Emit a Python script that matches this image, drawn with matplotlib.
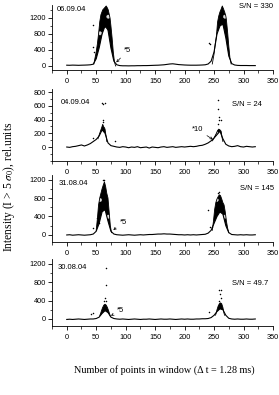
import numpy as np
import matplotlib
matplotlib.use("Agg")
import matplotlib.pyplot as plt
from matplotlib.ticker import MultipleLocator

plt.rcParams['font.family'] = ['Liberation Sans', 'DejaVu Sans']
plt.rcParams['mathtext.fontset'] = 'stix'
plt.rcParams['hatch.linewidth'] = 0.3

dates = ["06.09.04", "04.09.04", "31.08.04", "30.08.04"]
snr_labels = ["S/N = 330", "S/N = 24", "S/N = 145", "S/N = 49.7"]
scale_labels = ["*5", "*10", "*5", "*5"]

curve_x = list(range(0, 325, 5))
curve_06 = [20, 18, 22, 20, 17, 20, 22, 25, 30, 45, 180, 450, 800, 1000, 900, 450, 120, 30, 10, 5,
            5, 3, 5, 5, 8, 8, 10, 10, 12, 15, 18, 20, 25, 30, 40, 50, 55, 45, 35, 30,
            25, 22, 20, 20, 20, 22, 25, 30, 50, 120, 350, 800, 1000, 1050, 700, 250, 60, 25, 15, 12,
            12, 12, 10, 10, 10]
curve_04 = [0, -5, 5, 10, 20, 30, 15, 30, 50, 80, 110, 160, 250, 200, 60, 20, 10, 0, -5, 5,
            0, -10, 0, -5, 5, -10, -5, 0, -15, 0, -5, -10, 0, 5, -5, 0, 5, -5, 0, 5,
            0, 5, 10, 5, 10, 20, 25, 40, 60, 90, 130, 180, 230, 120, 40, 15, 5, 10, 20, 5,
            0, 10, 5, 0, 5]
curve_31 = [0, 5, -5, 0, 5, 0, -5, 0, 5, 20, 80, 250, 500, 550, 300, 80, 20, 5, 0, -5,
            0, 5, 0, -5, 0, 5, 0, 5, 10, 10, 15, 20, 20, 25, 20, 20, 15, 10, 5, 5,
            0, 5, 0, 5, 0, 5, 10, 15, 40, 100, 250, 400, 500, 450, 200, 50, 10, 5, 0, 5,
            0, 5, 0, 0, 5]
curve_30 = [-10, -5, -10, -5, 0, -5, -10, -5, 0, 0, 10, 40, 120, 180, 140, 40, 10, 0, -5, 0,
            -5, -10, -5, 0, -5, -10, -5, -5, 0, -5, -10, -5, 0, -5, -5, 0, -5, -10, -5, 0,
            -5, 0, -5, -5, 0, 0, 5, 5, 10, 30, 80, 160, 220, 200, 80, 15, 0, -5, 0, -5,
            -5, 0, -5, -5, 0]
curves = [curve_06, curve_04, curve_31, curve_30]

# envelopes of the dense point clouds (x, top)
cloud_a_x = [[46, 48, 50, 52, 54, 56, 58, 61, 64, 67, 69, 70.5, 72, 73.5, 75, 77, 79, 81, 83],
             [53, 54, 56, 58, 60, 61, 62, 63, 64, 65, 66, 67, 68],
             [50, 52, 54, 56, 58, 60, 62, 64, 66, 68, 70, 72, 74, 76],
             [56, 57, 59, 61, 63, 65, 67, 69, 71, 73, 74]]
cloud_a_y = [[50, 200, 350, 550, 800, 1100, 1280, 1400, 1450, 1500, 1450, 1400, 1300, 1200, 1000, 700, 350, 100, 0],
             [120, 150, 200, 250, 300, 330, 310, 290, 280, 260, 200, 150, 80],
             [100, 350, 650, 800, 900, 1000, 1080, 1150, 1050, 900, 800, 500, 200, 50],
             [80, 100, 180, 250, 300, 320, 300, 250, 180, 100, 60]]
cloud_b_x = [[247, 250, 252, 254, 256, 258, 260, 262, 264, 266, 268, 270, 271, 273, 275, 277, 279],
             [247, 248, 251, 254, 256, 258, 260, 262, 264, 265],
             [247, 249, 251, 253, 255, 257, 259, 261, 263, 265, 267, 269, 271, 273, 275],
             [252, 253, 255, 257, 259, 261, 263, 265, 267, 268]]
cloud_b_y = [[50, 300, 550, 750, 1100, 1250, 1350, 1420, 1500, 1430, 1350, 1250, 1150, 850, 500, 200, 50],
             [90, 100, 150, 200, 240, 260, 250, 230, 120, 80],
             [100, 300, 550, 700, 780, 830, 870, 850, 780, 700, 650, 500, 300, 150, 50],
             [80, 100, 200, 280, 330, 350, 330, 250, 120, 80]]

out_x = [[44, 45, 47, 241.7, 243],
         [45, 59, 61, 65, 61, 62, 82, 257, 257, 258.5, 259, 261, 256],
         [45, 51, 53, 55, 64, 62, 240, 243, 246, 256, 258],
         [67, 66, 65, 66, 64, 44, 42, 242, 259, 261, 260, 261, 258]]
out_y = [[1025, 480, 360, 580, 550],
         [126, 635, 625, 645, 393, 370, 87, 684, 560, 440, 400, 390, 330],
         [158, 360, 300, 250, 1200, 1180, 540, 180, 180, 900, 920],
         [1100, 735, 450, 400, 380, 130, 115, 145, 630, 620, 550, 450, 400]]

ylims = [(-100, 1525), (-200, 850), (-150, 1300), (-150, 1300)]
ymajor = [400, 200, 400, 400]
yminor = [200, 100, 200, 200]
ymax_tick = [1200, 800, 1200, 1200]
rects = [(0.1864, 0.8228, 0.792, 0.1646),
         (0.1864, 0.5930, 0.792, 0.1827),
         (0.1864, 0.3876, 0.792, 0.1696),
         (0.1864, 0.1749, 0.792, 0.1696)]
date_pos = [(-17, 1400), (-11, 655), (-14, 1124), (-16, 1124)]
snr_pos = [(292, 1480), (280, 625), (294, 1016), (280, 778)]
ann_text = [(97, 380), (212, 257), (90, 275), (85, 180)]
ann_tip = [(84, 90), (248, 110), (79, 108), (75, 72)]

fig = plt.figure(figsize=(2.79, 3.95), dpi=100)
for i in range(4):
    ax = fig.add_axes(rects[i])
    cx = np.array(curve_x)
    cy = np.array(curves[i])
    for xs, ys in [(cloud_a_x[i], cloud_a_y[i]), (cloud_b_x[i], cloud_b_y[i])]:
        xs = np.array(xs, dtype=float)
        base = np.minimum(np.interp(xs, cx, cy), np.array(ys))
        ax.fill_between(xs, base, ys, facecolor='black', edgecolor='#dddddd',
                        hatch='.', lw=0)
        ax.plot(xs, ys, color='black', lw=0.6)
    ax.plot(cx, cy, color='black', lw=0.8)
    ax.scatter(out_x[i], out_y[i], s=1.2, color='black', lw=0)
    ax.set_xlim(-25, 350)
    ax.set_ylim(*ylims[i])
    ax.spines['top'].set_visible(False)
    ax.spines['right'].set_visible(False)
    for s in ['left', 'bottom']:
        ax.spines[s].set_linewidth(0.6)
    ax.set_yticks(np.arange(0, ymax_tick[i] + 1, ymajor[i]))
    ax.yaxis.set_minor_locator(MultipleLocator(yminor[i]))
    ax.set_xticks(np.arange(0, 351, 50))
    ax.xaxis.set_minor_locator(MultipleLocator(25))
    ax.tick_params(which='major', length=3, width=0.6, labelsize=5.3, pad=1.5)
    ax.tick_params(which='minor', length=1.8, width=0.5)
    ax.tick_params(axis='x', pad=3)
    ax.text(date_pos[i][0], date_pos[i][1], dates[i], fontsize=5.5, ha='left', va='center')
    ax.text(snr_pos[i][0], snr_pos[i][1], snr_labels[i], fontsize=5.5, ha='left', va='center',
            clip_on=False)
    ax.annotate(scale_labels[i], xy=ann_tip[i], xytext=ann_text[i], fontsize=5.5,
                ha='left', va='center',
                arrowprops=dict(arrowstyle='->', lw=0.5, color='black', shrinkA=1, shrinkB=0,
                                mutation_scale=4))

fig.text(0.59, 1 - 370 / 395, "Number of points in window (\u0394 t = 1.28 ms)",
         ha='center', va='center', fontsize=7.3, family='Liberation Serif')
fig.text(9 / 279, 1 - 187 / 395, r"Intensity (I > 5 $\sigma_0$), rel.units",
         ha='center', va='center', rotation=90, fontsize=8.3, family='Liberation Serif')

fig.savefig("out.png", dpi=100)
